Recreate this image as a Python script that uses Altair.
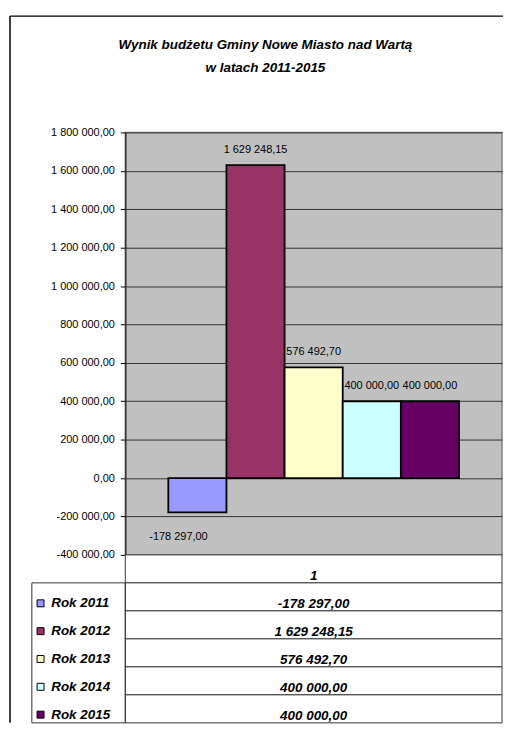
import altair as alt
import pandas as pd

# ---- data ----
title_lines = ["Wynik budżetu Gminy Nowe Miasto nad Wartą", "w latach 2011-2015"]
category = ["1"]
series = ["Rok 2011", "Rok 2012", "Rok 2013", "Rok 2014", "Rok 2015"]
values = [-178297.00, 1629248.15, 576492.70, 400000.00, 400000.00]
colors = ["#9999FF", "#993366", "#FFFFCC", "#CCFFFF", "#660066"]
y_ticks = [-400000, -200000, 0, 200000, 400000, 600000, 800000,
           1000000, 1200000, 1400000, 1600000, 1800000]

FONT = "Liberation Sans"

bars_df = pd.DataFrame({"series": series, "value": values})
table_rows = category + series
table_df = pd.DataFrame({
    "row": table_rows,
    "kind": ["header"] + ["value"] * len(series),
    "value": [None] + values,
})
frame_df = pd.DataFrame({"frame": [0]})

# ---- top panel: bars ----
x_enc = alt.X("series:N", sort=series,
              scale=alt.Scale(paddingInner=0, paddingOuter=0.74), axis=None)
y_enc = alt.Y("value:Q",
              scale=alt.Scale(domain=[-400000, 1800000], nice=False),
              axis=alt.Axis(values=y_ticks, format=",.2f", title=None,
                            grid=True, gridColor="#333333", gridWidth=1,
                            domainColor="#333333", domainWidth=1.5,
                            tickColor="#000000", tickSize=5, labelPadding=6,
                            labelFont=FONT, labelFontSize=11, labelColor="#000000"))
color_enc = alt.Color("series:N", sort=series,
                      scale=alt.Scale(domain=series, range=colors),
                      legend=alt.Legend(orient="none", legendX=-92, legendY=467,
                                        title=None, direction="vertical",
                                        symbolType="square", symbolSize=49,
                                        symbolStrokeColor="black", symbolStrokeWidth=1,
                                        labelFont=FONT, labelFontSize=13.5,
                                        labelFontStyle="italic", labelFontWeight="bold",
                                        labelColor="black", labelOffset=4,
                                        rowPadding=13, padding=0))

base = alt.Chart(bars_df)
bars = base.mark_bar(stroke="black", strokeWidth=1.8).encode(
    x=x_enc, y=y_enc, color=color_enc)

pos_labels = base.transform_filter("datum.value >= 0").mark_text(
    font=FONT, fontSize=11, color="black", baseline="alphabetic", dy=-12
).encode(x=x_enc, y=y_enc, text=alt.Text("value:Q", format=",.2f"))

neg_labels = base.transform_filter("datum.value < 0").mark_text(
    font=FONT, fontSize=11, color="black", baseline="alphabetic", dy=28, dx=-19
).encode(x=x_enc, y=y_enc, text=alt.Text("value:Q", format=",.2f"))

frame = alt.Chart(frame_df)
frame_v = frame.mark_rule(color="black", strokeWidth=1.5).encode(
    x=alt.value(-116), y=alt.value(-117), y2=alt.value(594))
frame_h = frame.mark_rule(color="black", strokeWidth=1.5).encode(
    x=alt.value(-116), x2=alt.value(380), y=alt.value(-117))

top = alt.layer(bars, pos_labels, neg_labels, frame_v, frame_h).properties(
    width=379, height=425,
    title=alt.TitleParams(text=title_lines, frame="group", anchor="middle",
                          dx=-48.5, offset=-59, font=FONT, fontSize=13.5,
                          fontStyle="italic", fontWeight="bold", color="black",
                          lineHeight=23),
    view=alt.ViewBackground(fill="#C0C0C0", stroke="#808080", strokeWidth=1.5),
)

# ---- bottom panel: data table ----
tbase = alt.Chart(table_df)
row_scale = alt.Scale(domain=table_rows, paddingInner=0, paddingOuter=0)
row_y = alt.Y("row:N", sort=table_rows, scale=row_scale, axis=None)

cells = tbase.mark_rect(fill="white", stroke="#333333", strokeWidth=1).encode(y=row_y)

texts = tbase.transform_calculate(
    txt="datum.kind == 'header' ? datum.row : format(datum.value, ',.2f')"
).mark_text(font=FONT, fontSize=13.5, fontStyle="italic", fontWeight="bold",
            color="black", dy=7).encode(y=row_y, text="txt:N")

legend_box = tbase.transform_filter(alt.datum.row == series[0]).mark_rect(
    fill="transparent", stroke="#333333", strokeWidth=1
).encode(x=alt.value(-94), x2=alt.value(0),
         y=alt.Y("row:N", sort=table_rows, scale=row_scale, axis=None, bandPosition=0),
         y2=alt.value(169))

bottom = alt.layer(cells, legend_box, texts).properties(
    width=379, height=169,
    view=alt.ViewBackground(stroke="transparent"),
)

chart = alt.vconcat(top, bottom, spacing=0, bounds="flush").properties(
    padding={"left": 0, "top": 4, "right": 0, "bottom": 0},
    background="white",
).configure(
    locale=alt.Locale(number=alt.NumberLocale(decimal=",", thousands=" ",
                                              grouping=[3], currency=["", " zł"],
                                              minus="-")),
).configure_view(strokeWidth=1)

chart.save("out.html", embed_options={"renderer": "svg", "actions": False})
